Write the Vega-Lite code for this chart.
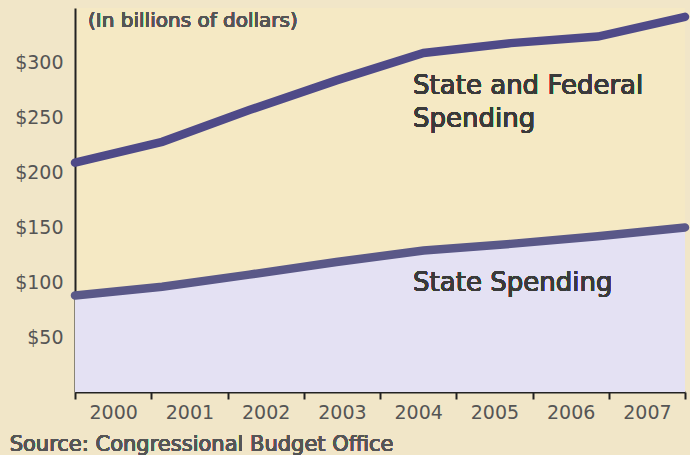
{
  "$schema": "https://vega.github.io/schema/vega-lite/v6.json",
  "autosize": {"type": "none"},
  "width": 610,
  "height": 384,
  "padding": {"left": 75, "top": 8, "right": 5, "bottom": 63},
  "background": "#f1e6c8",
  "config": {
    "view": {"fill": "#f5e9c4", "stroke": null},
    "font": "DejaVu Sans",
    "axis": {"labelFont": "DejaVu Sans", "grid": false},
    "text": {"fontWeight": "normal"}
  },
  "data": {
    "values": [
      {"year": 2000, "series": "State and Federal", "value": 209},
      {"year": 2001, "series": "State and Federal", "value": 228},
      {"year": 2002, "series": "State and Federal", "value": 257},
      {"year": 2003, "series": "State and Federal", "value": 284},
      {"year": 2004, "series": "State and Federal", "value": 309},
      {"year": 2005, "series": "State and Federal", "value": 318},
      {"year": 2006, "series": "State and Federal", "value": 324},
      {"year": 2007, "series": "State and Federal", "value": 342},
      {"year": 2000, "series": "State", "value": 88},
      {"year": 2001, "series": "State", "value": 96},
      {"year": 2002, "series": "State", "value": 107},
      {"year": 2003, "series": "State", "value": 118.5},
      {"year": 2004, "series": "State", "value": 129},
      {"year": 2005, "series": "State", "value": 135},
      {"year": 2006, "series": "State", "value": 142},
      {"year": 2007, "series": "State", "value": 150}
    ]
  },
  "layer": [
    {
      "encoding": {
        "x": {"field": "year", "type": "quantitative", "scale": {"domain": [2000, 2007], "nice": false, "zero": false}, "axis": null},
        "y": {
          "field": "value", "type": "quantitative",
          "scale": {"domain": [0, 350], "nice": false},
          "axis": {
            "title": null, "values": [50, 100, 150, 200, 250, 300],
            "labelExpr": "'$' + datum.value", "ticks": false,
            "domainColor": "#222", "domainWidth": 2,
            "labelFontSize": 19, "labelColor": "#555", "labelPadding": 12
          }
        }
      },
      "layer": [
        {
          "transform": [{"filter": "datum.series === 'State'"}],
          "mark": {"type": "area", "color": "#e4e1f3", "opacity": 1}
        },
        {
          "mark": {"type": "line", "strokeWidth": 8.5, "strokeCap": "round"},
          "encoding": {
            "color": {"field": "series", "type": "nominal", "scale": {"domain": ["State and Federal", "State"], "range": ["#4f4a88", "#5a5888"]}, "legend": null}
          }
        },
        {
          "mark": {"type": "text", "align": "left", "baseline": "middle", "fontSize": 20, "fontWeight": "normal", "color": "#555"},
          "encoding": {"x": {"datum": 2000.15}, "y": {"datum": 338}, "text": {"value": "(In billions of dollars)"}}
        },
        {
          "mark": {"type": "text", "align": "left", "baseline": "top", "fontSize": 26, "fontWeight": "normal", "color": "#3a3a3a", "lineHeight": 33},
          "encoding": {"x": {"datum": 2003.88}, "y": {"datum": 291}, "text": {"value": ["State and Federal", "Spending"]}}
        },
        {
          "mark": {"type": "text", "align": "left", "baseline": "middle", "fontSize": 26, "fontWeight": "normal", "color": "#3a3a3a"},
          "encoding": {"x": {"datum": 2003.88}, "y": {"datum": 99}, "text": {"value": "State Spending"}}
        },
        {
          "mark": {"type": "text", "align": "left", "baseline": "middle", "fontSize": 21, "fontWeight": "normal", "color": "#555"},
          "encoding": {"x": {"datum": 1999.25}, "y": {"datum": -48}, "text": {"value": "Source: Congressional Budget Office"}}
        }
      ]
    },
    {
      "mark": {"type": "point", "opacity": 0},
      "encoding": {
        "x": {
          "field": "year", "type": "ordinal",
          "scale": {"paddingInner": 0, "paddingOuter": 0},
          "axis": {
            "title": null, "labelAngle": 0, "tickBand": "extent",
            "domainColor": "#222", "domainWidth": 2, "tickColor": "#222", "tickWidth": 2, "tickSize": 7,
            "labelFontSize": 19, "labelColor": "#555", "labelPadding": 4
          }
        }
      }
    }
  ],
  "resolve": {"scale": {"x": "independent"}, "axis": {"x": "independent"}}
}
